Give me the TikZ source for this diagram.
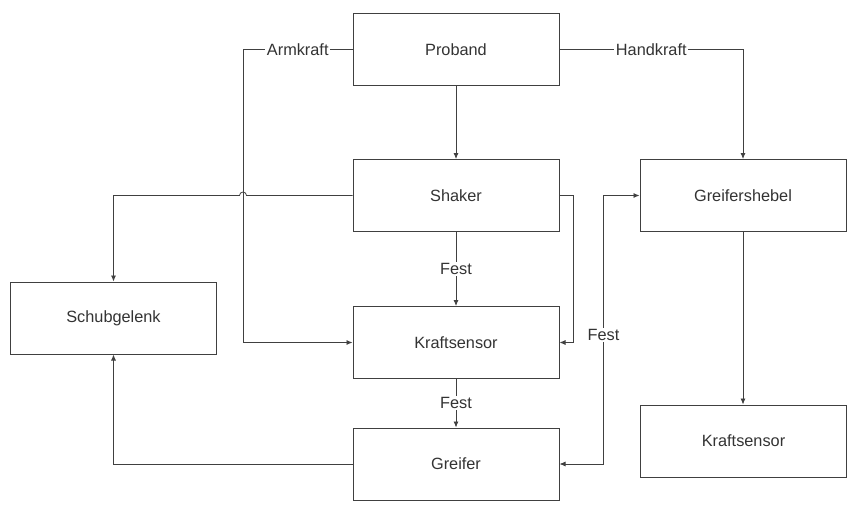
\documentclass[tikz,border=0pt]{standalone}
\usepackage{fontspec}
\setmainfont{Liberation Sans}
\usetikzlibrary{arrows.meta,calc}

\begin{document}
\begin{tikzpicture}[x=1pt,y=-1pt,
  blk/.style={draw=black!75, line width=1pt, minimum width=206pt, minimum height=72pt,
    inner sep=0pt, text=black!80, font=\fontsize{16.3}{19}\selectfont},
  lbl/.style={fill=white, inner sep=1.5pt, text=black!80, font=\fontsize{16.3}{19}\selectfont},
  conn/.style={draw=black!75, line width=0.8pt, -{Latex[length=6pt,width=5pt]}},
  dbl/.style={draw=black!75, line width=0.8pt, {Latex[length=6pt,width=5pt]}-{Latex[length=6pt,width=5pt]}},
]
\useasboundingbox (0,0) rectangle (859,506);

% blocks
\node[blk] (proband) at (456,49.5) {Proband};
\node[blk] (shaker)  at (456,195.5) {Shaker};
\node[blk] (ks)      at (456,342.5) {Kraftsensor};
\node[blk] (greifer) at (456,464) {Greifer};
\node[blk] (schub)   at (113.5,318) {Schubgelenk};
\node[blk] (hebel)   at (743,195.5) {Greifershebel};
\node[blk] (ks2)     at (743.5,441) {Kraftsensor};

% routing points
\coordinate (armx) at (243,49.5);

% Proband -> Shaker
\draw[conn] (proband) -- (shaker);

% Armkraft
\draw[conn] (proband.west) -- node[lbl]{Armkraft} (armx) |- (ks.west);

% Handkraft
\draw[conn] (proband.east) -| node[lbl,pos=0.25]{Handkraft} (hebel.north);

% Shaker -> Schubgelenk, hopping over the Armkraft line
\draw[conn] (shaker.west) -- (246.5,195.5) arc (0:-180:3.5) -| (schub.north);

% Shaker -> Kraftsensor (side)
\draw[conn] (shaker.east) -- ++(14,0) |- (ks.east);

% rigid links
\draw[conn] (shaker) -- node[lbl]{Fest} (ks);
\draw[conn] (ks) -- node[lbl]{Fest} (greifer);
\draw[dbl] (greifer.east) -- ++(44,0) |- node[lbl,pos=0.24]{Fest} (hebel.west);

% Greifer -> Schubgelenk
\draw[conn] (greifer.west) -| (schub.south);

% Greifershebel -> Kraftsensor
\draw[conn] (hebel.south) -- (hebel.south |- ks2.north);
\end{tikzpicture}
\end{document}
